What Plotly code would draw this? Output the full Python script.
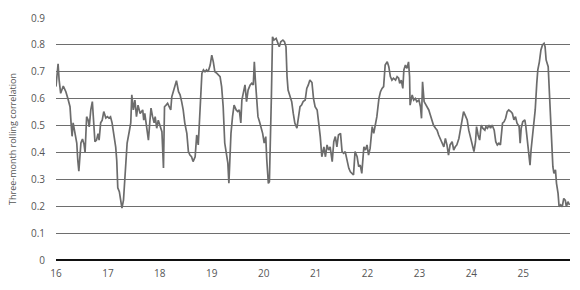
import plotly.graph_objects as go

# decimal year (years since 2000) and three-month rolling correlation
years = [
    16.00, 16.04, 16.06, 16.09, 16.14, 16.19, 16.23, 16.27, 16.29, 16.31, 16.33, 16.37, 16.40, 16.42, 16.44,
    16.48, 16.51, 16.54, 16.56, 16.59, 16.62, 16.64, 16.67, 16.70, 16.72, 16.75, 16.78, 16.81, 16.83, 16.86,
    16.89, 16.92, 16.96, 16.99, 17.02, 17.05, 17.08, 17.12, 17.15, 17.17, 17.19, 17.22, 17.25, 17.27, 17.30,
    17.32, 17.35, 17.37, 17.41, 17.44, 17.46, 17.49, 17.52, 17.55, 17.58, 17.62,
    17.67, 17.69, 17.71, 17.75, 17.78, 17.81, 17.83, 17.86, 17.89, 17.91, 17.94, 17.97, 18.00, 18.04, 18.07,
    18.09, 18.12, 18.15, 18.18, 18.21, 18.23, 18.26, 18.29, 18.32, 18.36, 18.39, 18.42, 18.45, 18.48, 18.52,
    18.55, 18.58, 18.61, 18.64, 18.68, 18.71, 18.74, 18.76, 18.79, 18.81, 18.84, 18.87, 18.90, 18.93, 18.97,
    19.00, 19.03, 19.06, 19.10, 19.13, 19.16, 19.19, 19.22, 19.25,
    19.31, 19.33, 19.35, 19.37, 19.40, 19.43, 19.47, 19.50, 19.53, 19.56, 19.58, 19.61, 19.64, 19.67, 19.70,
    19.74, 19.77, 19.80, 19.82, 19.84, 19.87, 19.89, 19.92, 19.95, 19.98, 20.01, 20.04, 20.06, 20.09, 20.11,
    20.13, 20.15, 20.17, 20.20, 20.24, 20.27, 20.30, 20.33, 20.37, 20.40, 20.43, 20.45, 20.47, 20.51, 20.54,
    20.57, 20.60, 20.64, 20.67, 20.70, 20.73, 20.76, 20.80, 20.83, 20.86, 20.89, 20.93, 20.96, 20.99,
    21.03, 21.06, 21.09, 21.12, 21.16, 21.19, 21.22, 21.25, 21.28, 21.32, 21.35, 21.38, 21.41, 21.44, 21.48,
    21.51, 21.54, 21.57, 21.60, 21.64, 21.67, 21.70, 21.73, 21.76, 21.80, 21.83, 21.86, 21.89, 21.93, 21.96,
    21.99, 22.02, 22.05, 22.09, 22.12, 22.15, 22.18, 22.22, 22.25, 22.28, 22.31, 22.34, 22.38, 22.41, 22.44,
    22.47, 22.50, 22.54, 22.57, 22.60,
    22.62, 22.65, 22.68, 22.70, 22.73, 22.76, 22.79, 22.81, 22.82, 22.86, 22.89, 22.92, 22.95, 22.99, 23.02,
    23.04, 23.06, 23.09, 23.11, 23.15, 23.18, 23.21, 23.24, 23.27, 23.31, 23.34, 23.37, 23.40, 23.43, 23.47,
    23.50, 23.53, 23.56, 23.59, 23.63, 23.66, 23.69, 23.72, 23.76, 23.79, 23.82, 23.85, 23.88, 23.92, 23.95,
    23.98, 24.01, 24.05, 24.08, 24.10, 24.13, 24.16, 24.19, 24.22, 24.26,
    24.28, 24.31, 24.34, 24.37, 24.40, 24.44, 24.47, 24.50, 24.53, 24.56, 24.60, 24.63, 24.66, 24.69, 24.72,
    24.76, 24.79, 24.82, 24.85, 24.88, 24.92, 24.94, 24.96, 24.99, 25.03, 25.05, 25.08, 25.10, 25.13, 25.15,
    25.18, 25.21, 25.23, 25.26, 25.28, 25.31, 25.34, 25.37, 25.40, 25.42, 25.44, 25.48, 25.50, 25.52, 25.54,
    25.57, 25.59, 25.62, 25.64, 25.67, 25.69, 25.72, 25.75, 25.78, 25.81, 25.83, 25.86, 25.89,
]
correlation = [
    0.645, 0.73, 0.67, 0.62, 0.647, 0.626, 0.60, 0.57, 0.51, 0.46, 0.51, 0.46, 0.435, 0.37, 0.33,
    0.435, 0.45, 0.43, 0.40, 0.533, 0.52, 0.495, 0.558, 0.589, 0.533, 0.44, 0.446, 0.47, 0.446, 0.51,
    0.52, 0.552, 0.528, 0.533, 0.528, 0.533, 0.51, 0.46, 0.42, 0.37, 0.268, 0.254, 0.212, 0.193, 0.223,
    0.286, 0.37, 0.435, 0.477, 0.51, 0.614, 0.558, 0.595, 0.533, 0.576, 0.545,
    0.558, 0.52, 0.545, 0.483, 0.446, 0.52, 0.565, 0.533, 0.51, 0.533, 0.49, 0.52, 0.502, 0.477, 0.342,
    0.57, 0.576, 0.583, 0.57, 0.558, 0.607, 0.626, 0.645, 0.667, 0.626, 0.614, 0.589, 0.558, 0.51, 0.471,
    0.403, 0.39, 0.384, 0.366, 0.384, 0.465, 0.428, 0.496, 0.595, 0.694, 0.707, 0.70, 0.707, 0.70, 0.725,
    0.762, 0.737, 0.70, 0.694, 0.688, 0.682, 0.645, 0.57, 0.435,
    0.36, 0.286, 0.398, 0.471, 0.533, 0.576, 0.558, 0.552, 0.558, 0.51, 0.595, 0.632, 0.651, 0.589, 0.632,
    0.651, 0.657, 0.651, 0.737, 0.669, 0.595, 0.533, 0.514, 0.496, 0.471, 0.435, 0.459, 0.372, 0.285, 0.291,
    0.434, 0.62, 0.83, 0.818, 0.824, 0.806, 0.793, 0.812, 0.818, 0.812, 0.793, 0.682, 0.632, 0.607, 0.589,
    0.545, 0.509, 0.49, 0.533, 0.57, 0.576, 0.589, 0.595, 0.638, 0.651, 0.669, 0.66, 0.60, 0.57,
    0.558, 0.509, 0.459, 0.384, 0.421, 0.384, 0.428, 0.409, 0.421, 0.366, 0.44, 0.459, 0.421, 0.465, 0.471,
    0.403, 0.397, 0.403, 0.372, 0.341, 0.328, 0.322, 0.316, 0.403, 0.384, 0.347, 0.353, 0.322, 0.421, 0.409,
    0.428, 0.39, 0.415, 0.496, 0.471, 0.502, 0.533, 0.601, 0.626, 0.638, 0.645, 0.725, 0.737, 0.719, 0.682,
    0.669, 0.676, 0.669, 0.682, 0.676,
    0.657, 0.669, 0.638, 0.707, 0.725, 0.713, 0.737, 0.682, 0.576, 0.614, 0.595, 0.601, 0.589, 0.595, 0.57,
    0.527, 0.663, 0.589, 0.583, 0.57, 0.558, 0.539, 0.521, 0.502, 0.49, 0.483, 0.465, 0.452, 0.434, 0.421,
    0.452, 0.428, 0.39, 0.428, 0.44, 0.409, 0.421, 0.428, 0.452, 0.49, 0.521, 0.552, 0.539, 0.521, 0.483,
    0.459, 0.44, 0.403, 0.44, 0.496, 0.465, 0.446, 0.502, 0.49, 0.483,
    0.496, 0.49, 0.502, 0.49, 0.502, 0.483, 0.44, 0.428, 0.434, 0.428, 0.509, 0.514, 0.527, 0.552, 0.558,
    0.552, 0.545, 0.521, 0.533, 0.509, 0.496, 0.434, 0.49, 0.514, 0.521, 0.496, 0.434, 0.39, 0.353, 0.409,
    0.465, 0.502, 0.558, 0.657, 0.707, 0.737, 0.781, 0.80, 0.806, 0.793, 0.744, 0.719, 0.632, 0.521, 0.434,
    0.347, 0.322, 0.335, 0.285, 0.248, 0.198, 0.205, 0.198, 0.229, 0.222, 0.198, 0.217, 0.205,
]

x_ticks = [16, 17, 18, 19, 20, 21, 22, 23, 24, 25]
x_tick_labels = ["16", "17", "18", "19", "20", "21", "22", "23", "24", "25"]
y_ticks = [0, 0.1, 0.2, 0.3, 0.4, 0.5, 0.6, 0.7, 0.8, 0.9]
y_tick_labels = ["0", "0.1", "0.2", "0.3", "0.4", "0.5", "0.6", "0.7", "0.8", "0.9"]
y_title = "Three-month rolling correlation"

fig = go.Figure()
fig.add_trace(go.Scatter(
    x=years, y=correlation, mode="lines",
    line=dict(color="#6c6c6c", width=1.7),
    showlegend=False, hoverinfo="skip",
))

fig.update_layout(
    width=580, height=290,
    margin=dict(l=56, r=10, t=18, b=30),
    paper_bgcolor="white", plot_bgcolor="white",
    font=dict(family="Open Sans", size=10, color="#555555"),
    xaxis=dict(
        range=[16, 25.9], tickmode="array", tickvals=x_ticks, ticktext=x_tick_labels,
        showgrid=False, zeroline=False, showline=False,
        ticks="outside", ticklen=4, tickcolor="rgba(0,0,0,0)",
        tickfont=dict(size=10, color="#555555"),
    ),
    yaxis=dict(
        range=[0, 0.9], tickmode="array", tickvals=y_ticks, ticktext=y_tick_labels,
        showgrid=True, gridcolor="#6e6e6e", gridwidth=1,
        zeroline=True, zerolinecolor="#111111", zerolinewidth=2,
        showline=False, ticks="outside", ticklen=8, tickcolor="rgba(0,0,0,0)",
        tickfont=dict(size=10, color="#555555"),
        title=dict(text=y_title, font=dict(size=9, color="#555555"), standoff=12),
    ),
)

fig.write_html("out.html")
